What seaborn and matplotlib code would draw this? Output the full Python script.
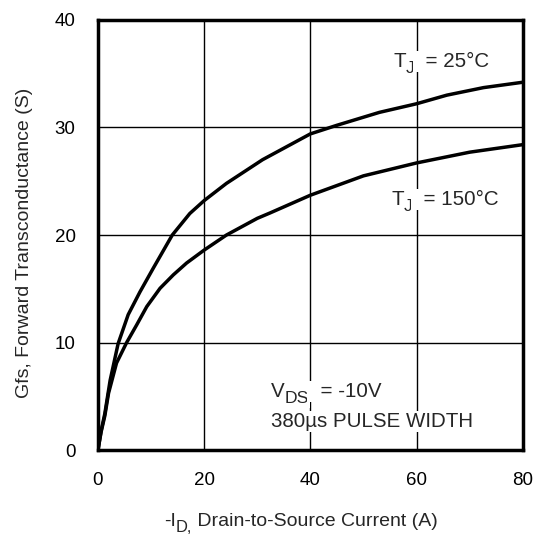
import matplotlib
matplotlib.use("Agg")
import matplotlib.pyplot as plt
from matplotlib.transforms import IdentityTransform
import pandas as pd
import seaborn as sns

current_25 = [0, 0.6, 1.3, 2.3, 3.8, 5.7, 7.9, 10.4, 14.0, 17.3, 20.0, 24.2, 31.0,
              40.0, 45.0, 53.0, 60.0, 65.7, 72.6, 80.0]
gfs_25 = [0, 1.8, 3.4, 6.5, 9.9, 12.6, 14.7, 16.9, 20.0, 22.0, 23.2, 24.8, 27.0,
          29.4, 30.2, 31.4, 32.2, 33.0, 33.7, 34.2]

current_150 = [0, 0.6, 1.3, 2.0, 3.5, 5.4, 7.3, 9.2, 11.7, 14.2, 16.7, 20.0, 24.2,
               30.0, 32.4, 40.0, 50.0, 60.0, 70.0, 80.0]
gfs_150 = [0, 1.7, 3.2, 5.3, 8.1, 10.0, 11.65, 13.35, 15.05, 16.3, 17.4, 18.6, 20.0,
           21.55, 22.05, 23.7, 25.5, 26.7, 27.7, 28.4]

x_ticks = [0, 20, 40, 60, 80]
y_ticks = [0, 10, 20, 30, 40]

df = pd.concat([
    pd.DataFrame({"current": current_25, "gfs": gfs_25, "tj": "25"}),
    pd.DataFrame({"current": current_150, "gfs": gfs_150, "tj": "150"}),
])

sns.set_style("white")
plt.rcParams["font.family"] = ["Liberation Sans", "DejaVu Sans"]

fig = plt.figure(figsize=(5.44, 5.36), dpi=100)
ax = fig.add_axes([0.180, 0.160, 0.781, 0.803])

sns.lineplot(
    data=df, x="current", y="gfs", units="tj", estimator=None,
    color="black", linewidth=2.5, ax=ax, legend=False, sort=False,
)
for ln in ax.lines:
    ln.set_solid_joinstyle("round")

ax.set_xlim(0, 80)
ax.set_ylim(0, 40)
ax.set_xticks(x_ticks)
ax.set_yticks(y_ticks)
ax.grid(True, color="black", linewidth=1.0)
ax.set_axisbelow(True)
for s in ax.spines.values():
    s.set_color("black")
    s.set_linewidth(2.5)
ax.tick_params(axis="both", length=0, pad=16, labelsize=13.5, colors="black")
ax.set_xlabel("")
ax.set_ylabel("")

renderer = fig.canvas.get_renderer()


def rich_text(x_px, y_px, parts, size, center=False, box=False):
    # parts: list of (string, is_subscript); coordinates in figure pixels
    pieces = []
    for s, sub in parts:
        t = fig.text(0, 0, s, fontsize=size * 0.85 if sub else size,
                     transform=IdentityTransform(), zorder=5)
        if box:
            t.set_bbox(dict(facecolor="white", edgecolor="none", pad=1))
        pieces.append((t, t.get_window_extent(renderer).width, sub))
    total = sum(w for _, w, _ in pieces)
    x = x_px - total / 2 if center else x_px
    for t, w, sub in pieces:
        t.set_position((x, y_px - (size * 0.3 * fig.dpi / 72 if sub else 0)))
        x += w


H = 536
rich_text(393, H - 67, [("T", False), ("J", True), ("  = 25°C", False)], 14.8, box=True)
rich_text(391, H - 205, [("T", False), ("J", True), ("  = 150°C", False)], 14.8, box=True)
rich_text(271, H - 397, [("V", False), ("DS", True), ("  = -10V", False)], 14.8, box=True)
rich_text(271, H - 427, [("380µs PULSE WIDTH", False)], 14.8, box=True)
rich_text(301, H - 526, [("-I", False), ("D,", True), (" Drain-to-Source Current (A)", False)],
          14, center=True)

fig.text(25 / 544, 1 - 242.5 / 536, "Gfs, Forward Transconductance (S)", rotation=90,
         ha="center", va="center", fontsize=14)

fig.savefig("out.png", dpi=100)
